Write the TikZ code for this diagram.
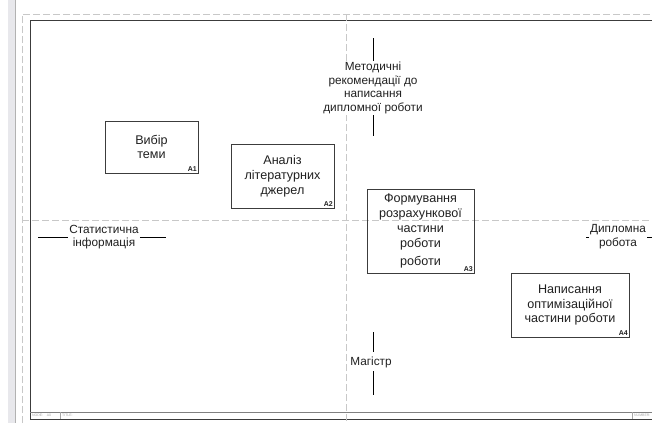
\documentclass[tikz,border=0pt]{standalone}
\usepackage{fontspec}
\setmainfont{Liberation Sans}
\usepackage{xcolor}
\definecolor{guidegray}{HTML}{C8C8C8}
\definecolor{stripgray}{HTML}{E8E8EC}
\definecolor{framegray}{HTML}{3C3C3C}
\definecolor{inkgray}{HTML}{202020}

\begin{document}
\begin{tikzpicture}[x=1pt, y=-1pt,
    every node/.style={text=inkgray},
    idefbox/.style={draw=framegray, line width=0.9pt, align=center, inner sep=0pt,
        font=\fontsize{12.6}{14.8}\selectfont},
    boxnum/.style={anchor=south east, inner sep=1.5pt, font=\fontsize{7}{8}\selectfont\bfseries},
    arrowlabel/.style={align=center, inner sep=1pt, fill=white,
        font=\fontsize{11.8}{13.7}\selectfont},
    guide/.style={draw=guidegray, line width=0.9pt, dash pattern=on 7pt off 3pt},
    stub/.style={draw=black, line width=0.9pt},
    footnote/.style={anchor=west, inner sep=1pt, text=gray!70, font=\fontsize{3.5}{4}\selectfont}]

        \useasboundingbox (0,0) rectangle (652,423);

        % Page strip and sheet border
        \fill[stripgray] (8,0) rectangle (15,423);
        \draw[gray!60, line width=0.6pt] (15,0) -- (15,423);
        \draw[guide] (22,423) -- (22,14) -- (652,14);

        % Diagram frame
        \draw[framegray, line width=1pt] (652,20) -- (30,20) -- (30,419) -- (652,419);
        \draw[gray, line width=0.8pt] (30,412) -- (652,412);
        \draw[gray!70, line width=0.5pt] (60,412) -- (60,419);
        \draw[gray!70, line width=0.5pt] (632,412) -- (632,419);
        \node[footnote] (fnode) at (31,415.5) {NODE:\quad A0};
        \node[footnote] (ftitle) at (61,415.5) {TITLE:};
        \node[footnote] (fnum) at (633,415.5) {NUMBER:};

        % Centre guides
        \draw[guide] (346,14) -- (346,423);
        \draw[guide] (22,220) -- (652,220);

        % Activities
        \node[idefbox, minimum width=93pt, minimum height=52pt] (a1) at (151.5,147) {Вибір\\теми};
        \node[boxnum] (a1num) at (a1.south east) {A1};

        \node[idefbox, minimum width=103pt, minimum height=64pt] (a2) at (282.5,176) {Аналіз\\літературних\\джерел};
        \node[boxnum] (a2num) at (a2.south east) {A2};

        \node[idefbox, minimum width=107pt, minimum height=84pt] (a3) at (420.5,231) {Формування\\розрахункової\\частини\\роботи\\[3pt]роботи};
        \node[boxnum] (a3num) at (a3.south east) {A3};

        \node[idefbox, minimum width=118pt, minimum height=64pt] (a4) at (570,305) {Написання\\оптимізаційної\\частини роботи};
        \node[boxnum] (a4num) at (a4.south east) {A4};

        % Control
        \node[arrowlabel] (ctrl) at (373,88) {Методичні\\рекомендації до\\написання\\дипломної роботи};
        \coordinate (ctrltop) at (373,38);
        \coordinate (ctrlbot) at (373,136);
        \draw[stub] (ctrltop) -- (ctrl.north);
        \draw[stub] (ctrl.south) -- (ctrlbot);

        % Input
        \node[arrowlabel] (inp) at (104,237) {Статистична\\інформація};
        \coordinate (inpleft) at (38,237);
        \coordinate (inpright) at (166,237);
        \draw[stub] (inpleft) -- (inp.west);
        \draw[stub] (inp.east) -- (inpright);

        % Output
        \node[arrowlabel] (outp) at (618,237) {Дипломна\\робота};
        \coordinate (outleft) at (586,237);
        \coordinate (outright) at (652,237);
        \draw[stub] (outleft) -- (outp.west);
        \draw[stub] (outp.east) -- (outright);

        % Mechanism
        \node[arrowlabel, fill=none] (mech) at (371,362) {Магістр};
        \coordinate (mechtop) at (373,332);
        \coordinate (mechbot) at (373,395);
        \draw[stub] (mechtop) -- (373,352);
        \draw[stub] (373,371) -- (mechbot);
    \end{tikzpicture}
\end{document}
